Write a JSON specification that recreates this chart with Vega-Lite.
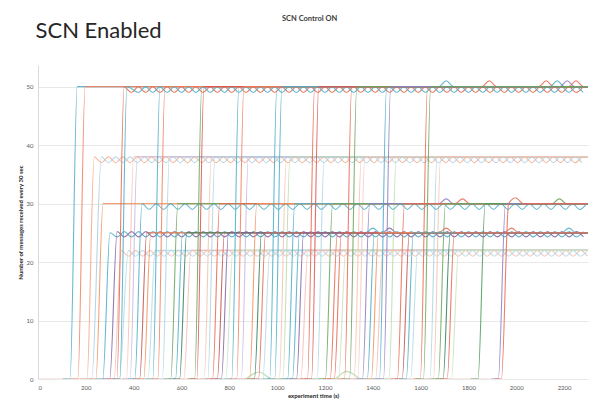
{
"$schema":"https://vega.github.io/schema/vega-lite/v6.json",
"width":550,"height":314,
"autosize":{"type":"none"},
"padding":{"left":38,"top":65,"right":10,"bottom":21},
"background":"white",
"config":{"font":"Lato","view":{"stroke":null}},
"title":{"text":"SCN Control ON","fontSize":7.5,"fontWeight":"bold","color":"#404040","anchor":"start","frame":"group","dx":244,"offset":-3},
"datasets":{
"l0":[
{"k":"z1","t":0,"v":0},{"k":"z1","t":1890,"v":0},
{"k":"z2","t":870,"v":0},{"k":"z2","t":925,"v":1.2},{"k":"z2","t":980,"v":0},{"k":"z2","t":1235,"v":0},{"k":"z2","t":1290,"v":1.3},{"k":"z2","t":1345,"v":0}
],
"l21":[
{"k":"i0","t":288,"v":0},{"k":"i0","t":318,"v":0},{"k":"i0","t":348,"v":22},
{"k":"i0","t":378,"v":21},{"k":"i0","t":408,"v":22},{"k":"i0","t":438,"v":21},{"k":"i0","t":468,"v":22},{"k":"i0","t":498,"v":21},{"k":"i0","t":528,"v":22},{"k":"i0","t":558,"v":21},{"k":"i0","t":588,"v":22},{"k":"i0","t":618,"v":21},{"k":"i0","t":648,"v":22},{"k":"i0","t":678,"v":21},{"k":"i0","t":708,"v":22},{"k":"i0","t":738,"v":21},{"k":"i0","t":768,"v":22},{"k":"i0","t":798,"v":21},{"k":"i0","t":828,"v":22},{"k":"i0","t":858,"v":21},{"k":"i0","t":888,"v":22},{"k":"i0","t":918,"v":21},{"k":"i0","t":948,"v":22},{"k":"i0","t":978,"v":21},{"k":"i0","t":1008,"v":22},{"k":"i0","t":1038,"v":21},{"k":"i0","t":1068,"v":22},{"k":"i0","t":1098,"v":21},{"k":"i0","t":1128,"v":22},{"k":"i0","t":1158,"v":21},{"k":"i0","t":1188,"v":22},{"k":"i0","t":1218,"v":21},{"k":"i0","t":1248,"v":22},{"k":"i0","t":1278,"v":21},{"k":"i0","t":1308,"v":22},{"k":"i0","t":1338,"v":21},{"k":"i0","t":1368,"v":22},{"k":"i0","t":1398,"v":21},{"k":"i0","t":1428,"v":22},{"k":"i0","t":1458,"v":21},{"k":"i0","t":1488,"v":22},{"k":"i0","t":1518,"v":21},{"k":"i0","t":1548,"v":22},{"k":"i0","t":1578,"v":21},{"k":"i0","t":1608,"v":22},{"k":"i0","t":1638,"v":21},{"k":"i0","t":1668,"v":22},{"k":"i0","t":1698,"v":21},{"k":"i0","t":1728,"v":22},{"k":"i0","t":1758,"v":21},{"k":"i0","t":1788,"v":22},{"k":"i0","t":1818,"v":21},{"k":"i0","t":1848,"v":22},{"k":"i0","t":1878,"v":21},{"k":"i0","t":1908,"v":22},{"k":"i0","t":1938,"v":21},{"k":"i0","t":1968,"v":22},{"k":"i0","t":1998,"v":21},{"k":"i0","t":2028,"v":22},{"k":"i0","t":2058,"v":21},{"k":"i0","t":2088,"v":22},{"k":"i0","t":2118,"v":21},{"k":"i0","t":2148,"v":22},{"k":"i0","t":2178,"v":21},{"k":"i0","t":2208,"v":22},{"k":"i0","t":2238,"v":21},{"k":"i0","t":2268,"v":22},{"k":"i0","t":2298,"v":21},
{"k":"j0","t":310,"v":0},{"k":"j0","t":340,"v":0},
{"k":"j0","t":378,"v":22},{"k":"j0","t":408,"v":21},{"k":"j0","t":438,"v":22},{"k":"j0","t":468,"v":21},{"k":"j0","t":498,"v":22},{"k":"j0","t":528,"v":21},{"k":"j0","t":558,"v":22},{"k":"j0","t":588,"v":21},{"k":"j0","t":618,"v":22},{"k":"j0","t":648,"v":21},{"k":"j0","t":678,"v":22},{"k":"j0","t":708,"v":21},{"k":"j0","t":738,"v":22},{"k":"j0","t":768,"v":21},{"k":"j0","t":798,"v":22},{"k":"j0","t":828,"v":21},{"k":"j0","t":858,"v":22},{"k":"j0","t":888,"v":21},{"k":"j0","t":918,"v":22},{"k":"j0","t":948,"v":21},{"k":"j0","t":978,"v":22},{"k":"j0","t":1008,"v":21},{"k":"j0","t":1038,"v":22},{"k":"j0","t":1068,"v":21},{"k":"j0","t":1098,"v":22},{"k":"j0","t":1128,"v":21},{"k":"j0","t":1158,"v":22},{"k":"j0","t":1188,"v":21},{"k":"j0","t":1218,"v":22},{"k":"j0","t":1248,"v":21},{"k":"j0","t":1278,"v":22},{"k":"j0","t":1308,"v":21},{"k":"j0","t":1338,"v":22},{"k":"j0","t":1368,"v":21},{"k":"j0","t":1398,"v":22},{"k":"j0","t":1428,"v":21},{"k":"j0","t":1458,"v":22},{"k":"j0","t":1488,"v":21},{"k":"j0","t":1518,"v":22},{"k":"j0","t":1548,"v":21},{"k":"j0","t":1578,"v":22},{"k":"j0","t":1608,"v":21},{"k":"j0","t":1638,"v":22},{"k":"j0","t":1668,"v":21},{"k":"j0","t":1698,"v":22},{"k":"j0","t":1728,"v":21},{"k":"j0","t":1758,"v":22},{"k":"j0","t":1788,"v":21},{"k":"j0","t":1818,"v":22},{"k":"j0","t":1848,"v":21},{"k":"j0","t":1878,"v":22},{"k":"j0","t":1908,"v":21},{"k":"j0","t":1938,"v":22},{"k":"j0","t":1968,"v":21},{"k":"j0","t":1998,"v":22},{"k":"j0","t":2028,"v":21},{"k":"j0","t":2058,"v":22},{"k":"j0","t":2088,"v":21},{"k":"j0","t":2118,"v":22},{"k":"j0","t":2148,"v":21},{"k":"j0","t":2178,"v":22},{"k":"j0","t":2208,"v":21},{"k":"j0","t":2238,"v":22},{"k":"j0","t":2268,"v":21},{"k":"j0","t":2298,"v":22},
{"k":"i1","t":430,"v":0},{"k":"i1","t":460,"v":0},{"k":"i1","t":490,"v":22},{"k":"i1","t":2300,"v":22},
{"k":"i2","t":580,"v":0},{"k":"i2","t":610,"v":0},{"k":"i2","t":640,"v":22},{"k":"i2","t":2300,"v":22},
{"k":"i3","t":755,"v":0},{"k":"i3","t":785,"v":0},{"k":"i3","t":815,"v":22},{"k":"i3","t":2300,"v":22},
{"k":"i4","t":910,"v":0},{"k":"i4","t":940,"v":0},{"k":"i4","t":970,"v":22},{"k":"i4","t":2300,"v":22},
{"k":"i5","t":1069,"v":0},{"k":"i5","t":1099,"v":0},{"k":"i5","t":1129,"v":22},{"k":"i5","t":2300,"v":22},
{"k":"i6","t":1227,"v":0},{"k":"i6","t":1257,"v":0},{"k":"i6","t":1287,"v":22},{"k":"i6","t":2300,"v":22},
{"k":"i7","t":1382,"v":0},{"k":"i7","t":1412,"v":0},{"k":"i7","t":1442,"v":22},{"k":"i7","t":2300,"v":22},
{"k":"i8","t":1528,"v":0},{"k":"i8","t":1558,"v":0},{"k":"i8","t":1588,"v":22},{"k":"i8","t":2300,"v":22},
{"k":"i9","t":1699,"v":0},{"k":"i9","t":1729,"v":0},{"k":"i9","t":1759,"v":22},{"k":"i9","t":2300,"v":22}
],
"l37":[
{"k":"c0","t":175,"v":0},{"k":"c0","t":205,"v":0},{"k":"c0","t":235,"v":38},
{"k":"c0","t":265,"v":37},{"k":"c0","t":295,"v":38},{"k":"c0","t":325,"v":37},{"k":"c0","t":355,"v":38},{"k":"c0","t":385,"v":37},{"k":"c0","t":415,"v":38},{"k":"c0","t":445,"v":37},{"k":"c0","t":475,"v":38},{"k":"c0","t":505,"v":37},{"k":"c0","t":535,"v":38},{"k":"c0","t":565,"v":37},{"k":"c0","t":595,"v":38},{"k":"c0","t":625,"v":37},{"k":"c0","t":655,"v":38},{"k":"c0","t":685,"v":37},{"k":"c0","t":715,"v":38},{"k":"c0","t":745,"v":37},{"k":"c0","t":775,"v":38},{"k":"c0","t":805,"v":37},{"k":"c0","t":835,"v":38},{"k":"c0","t":865,"v":37},{"k":"c0","t":895,"v":38},{"k":"c0","t":925,"v":37},{"k":"c0","t":955,"v":38},{"k":"c0","t":985,"v":37},{"k":"c0","t":1015,"v":38},{"k":"c0","t":1045,"v":37},{"k":"c0","t":1075,"v":38},{"k":"c0","t":1105,"v":37},{"k":"c0","t":1135,"v":38},{"k":"c0","t":1165,"v":37},{"k":"c0","t":1195,"v":38},{"k":"c0","t":1225,"v":37},{"k":"c0","t":1255,"v":38},{"k":"c0","t":1285,"v":37},{"k":"c0","t":1315,"v":38},{"k":"c0","t":1345,"v":37},{"k":"c0","t":1375,"v":38},{"k":"c0","t":1405,"v":37},{"k":"c0","t":1435,"v":38},{"k":"c0","t":1465,"v":37},{"k":"c0","t":1495,"v":38},{"k":"c0","t":1525,"v":37},{"k":"c0","t":1555,"v":38},{"k":"c0","t":1585,"v":37},{"k":"c0","t":1615,"v":38},{"k":"c0","t":1645,"v":37},{"k":"c0","t":1675,"v":38},{"k":"c0","t":1705,"v":37},{"k":"c0","t":1735,"v":38},{"k":"c0","t":1765,"v":37},{"k":"c0","t":1795,"v":38},{"k":"c0","t":1825,"v":37},{"k":"c0","t":1855,"v":38},{"k":"c0","t":1885,"v":37},{"k":"c0","t":1915,"v":38},{"k":"c0","t":1945,"v":37},{"k":"c0","t":1975,"v":38},{"k":"c0","t":2005,"v":37},{"k":"c0","t":2035,"v":38},{"k":"c0","t":2065,"v":37},{"k":"c0","t":2095,"v":38},{"k":"c0","t":2125,"v":37},{"k":"c0","t":2155,"v":38},{"k":"c0","t":2185,"v":37},{"k":"c0","t":2215,"v":38},{"k":"c0","t":2245,"v":37},{"k":"c0","t":2275,"v":38},
{"k":"d0","t":195,"v":0},{"k":"d0","t":225,"v":0},
{"k":"d0","t":265,"v":38},{"k":"d0","t":295,"v":37},{"k":"d0","t":325,"v":38},{"k":"d0","t":355,"v":37},{"k":"d0","t":385,"v":38},{"k":"d0","t":415,"v":37},{"k":"d0","t":445,"v":38},{"k":"d0","t":475,"v":37},{"k":"d0","t":505,"v":38},{"k":"d0","t":535,"v":37},{"k":"d0","t":565,"v":38},{"k":"d0","t":595,"v":37},{"k":"d0","t":625,"v":38},{"k":"d0","t":655,"v":37},{"k":"d0","t":685,"v":38},{"k":"d0","t":715,"v":37},{"k":"d0","t":745,"v":38},{"k":"d0","t":775,"v":37},{"k":"d0","t":805,"v":38},{"k":"d0","t":835,"v":37},{"k":"d0","t":865,"v":38},{"k":"d0","t":895,"v":37},{"k":"d0","t":925,"v":38},{"k":"d0","t":955,"v":37},{"k":"d0","t":985,"v":38},{"k":"d0","t":1015,"v":37},{"k":"d0","t":1045,"v":38},{"k":"d0","t":1075,"v":37},{"k":"d0","t":1105,"v":38},{"k":"d0","t":1135,"v":37},{"k":"d0","t":1165,"v":38},{"k":"d0","t":1195,"v":37},{"k":"d0","t":1225,"v":38},{"k":"d0","t":1255,"v":37},{"k":"d0","t":1285,"v":38},{"k":"d0","t":1315,"v":37},{"k":"d0","t":1345,"v":38},{"k":"d0","t":1375,"v":37},{"k":"d0","t":1405,"v":38},{"k":"d0","t":1435,"v":37},{"k":"d0","t":1465,"v":38},{"k":"d0","t":1495,"v":37},{"k":"d0","t":1525,"v":38},{"k":"d0","t":1555,"v":37},{"k":"d0","t":1585,"v":38},{"k":"d0","t":1615,"v":37},{"k":"d0","t":1645,"v":38},{"k":"d0","t":1675,"v":37},{"k":"d0","t":1705,"v":38},{"k":"d0","t":1735,"v":37},{"k":"d0","t":1765,"v":38},{"k":"d0","t":1795,"v":37},{"k":"d0","t":1825,"v":38},{"k":"d0","t":1855,"v":37},{"k":"d0","t":1885,"v":38},{"k":"d0","t":1915,"v":37},{"k":"d0","t":1945,"v":38},{"k":"d0","t":1975,"v":37},{"k":"d0","t":2005,"v":38},{"k":"d0","t":2035,"v":37},{"k":"d0","t":2065,"v":38},{"k":"d0","t":2095,"v":37},{"k":"d0","t":2125,"v":38},{"k":"d0","t":2155,"v":37},{"k":"d0","t":2185,"v":38},{"k":"d0","t":2215,"v":37},{"k":"d0","t":2245,"v":38},{"k":"d0","t":2275,"v":37},
{"k":"c1","t":340,"v":0},{"k":"c1","t":370,"v":0},{"k":"c1","t":400,"v":38},{"k":"c1","t":2300,"v":38},
{"k":"c2","t":490,"v":0},{"k":"c2","t":520,"v":0},{"k":"c2","t":550,"v":38},{"k":"c2","t":2300,"v":38},
{"k":"c3","t":665,"v":0},{"k":"c3","t":695,"v":0},{"k":"c3","t":725,"v":38},{"k":"c3","t":2300,"v":38},
{"k":"c4","t":820,"v":0},{"k":"c4","t":850,"v":0},{"k":"c4","t":880,"v":38},{"k":"c4","t":2300,"v":38},
{"k":"c5","t":979,"v":0},{"k":"c5","t":1009,"v":0},{"k":"c5","t":1039,"v":38},{"k":"c5","t":2300,"v":38},
{"k":"c6","t":1137,"v":0},{"k":"c6","t":1167,"v":0},{"k":"c6","t":1197,"v":38},{"k":"c6","t":2300,"v":38},
{"k":"c7","t":1292,"v":0},{"k":"c7","t":1322,"v":0},{"k":"c7","t":1352,"v":38},{"k":"c7","t":2300,"v":38},
{"k":"c8","t":1438,"v":0},{"k":"c8","t":1468,"v":0},{"k":"c8","t":1498,"v":38},{"k":"c8","t":2300,"v":38},
{"k":"c9","t":1609,"v":0},{"k":"c9","t":1639,"v":0},{"k":"c9","t":1669,"v":38},{"k":"c9","t":2300,"v":38},
{"k":"d1","t":355,"v":0},{"k":"d1","t":385,"v":0},{"k":"d1","t":415,"v":38},{"k":"d1","t":2300,"v":38},
{"k":"d3","t":680,"v":0},{"k":"d3","t":710,"v":0},{"k":"d3","t":740,"v":38},{"k":"d3","t":2300,"v":38},
{"k":"d5","t":994,"v":0},{"k":"d5","t":1024,"v":0},{"k":"d5","t":1054,"v":38},{"k":"d5","t":2300,"v":38},
{"k":"d7","t":1307,"v":0},{"k":"d7","t":1337,"v":0},{"k":"d7","t":1367,"v":38},{"k":"d7","t":2300,"v":38},
{"k":"d9","t":1624,"v":0},{"k":"d9","t":1654,"v":0},{"k":"d9","t":1684,"v":38},{"k":"d9","t":2300,"v":38}
],
"l25":[
{"k":"g0","t":241,"v":0},{"k":"g0","t":271,"v":0},{"k":"g0","t":301,"v":25},
{"k":"g0","t":331,"v":24.3},{"k":"g0","t":361,"v":25.2},{"k":"g0","t":391,"v":24.3},{"k":"g0","t":421,"v":25.2},{"k":"g0","t":451,"v":24.3},{"k":"g0","t":481,"v":25.2},{"k":"g0","t":511,"v":24.3},{"k":"g0","t":541,"v":25.2},{"k":"g0","t":571,"v":24.3},{"k":"g0","t":601,"v":25.2},{"k":"g0","t":631,"v":24.3},{"k":"g0","t":661,"v":25.2},{"k":"g0","t":691,"v":24.3},{"k":"g0","t":721,"v":25.2},{"k":"g0","t":751,"v":24.3},{"k":"g0","t":781,"v":25.2},{"k":"g0","t":811,"v":24.3},{"k":"g0","t":841,"v":25.2},{"k":"g0","t":871,"v":24.3},{"k":"g0","t":901,"v":25.2},{"k":"g0","t":931,"v":24.3},{"k":"g0","t":961,"v":25.2},{"k":"g0","t":991,"v":24.3},{"k":"g0","t":1021,"v":25.2},{"k":"g0","t":1051,"v":24.3},{"k":"g0","t":1081,"v":25.2},{"k":"g0","t":1111,"v":24.3},{"k":"g0","t":1141,"v":25.2},{"k":"g0","t":1171,"v":24.3},{"k":"g0","t":1201,"v":25.2},{"k":"g0","t":1231,"v":24.3},{"k":"g0","t":1261,"v":25.2},{"k":"g0","t":1291,"v":24.3},{"k":"g0","t":1321,"v":25.2},{"k":"g0","t":1351,"v":24.3},{"k":"g0","t":1381,"v":25.2},{"k":"g0","t":1411,"v":24.3},{"k":"g0","t":1441,"v":25.2},{"k":"g0","t":1471,"v":24.3},{"k":"g0","t":1501,"v":25.2},{"k":"g0","t":1531,"v":24.3},{"k":"g0","t":1561,"v":25.2},{"k":"g0","t":1591,"v":24.3},{"k":"g0","t":1621,"v":25.2},{"k":"g0","t":1651,"v":24.3},{"k":"g0","t":1681,"v":25.2},{"k":"g0","t":1711,"v":24.3},{"k":"g0","t":1741,"v":25.2},{"k":"g0","t":1771,"v":24.3},{"k":"g0","t":1801,"v":25.2},{"k":"g0","t":1831,"v":24.3},{"k":"g0","t":1861,"v":25.2},{"k":"g0","t":1891,"v":24.3},{"k":"g0","t":1921,"v":25.2},{"k":"g0","t":1951,"v":24.3},{"k":"g0","t":1981,"v":25.2},{"k":"g0","t":2011,"v":24.3},{"k":"g0","t":2041,"v":25.2},{"k":"g0","t":2071,"v":24.3},{"k":"g0","t":2101,"v":25.2},{"k":"g0","t":2131,"v":24.3},{"k":"g0","t":2161,"v":25.2},{"k":"g0","t":2191,"v":24.3},{"k":"g0","t":2221,"v":25.2},{"k":"g0","t":2251,"v":24.3},{"k":"g0","t":2281,"v":25.2},
{"k":"h0","t":270,"v":0},{"k":"h0","t":300,"v":0},
{"k":"h0","t":331,"v":25.2},{"k":"h0","t":361,"v":24.3},{"k":"h0","t":391,"v":25.2},{"k":"h0","t":421,"v":24.3},{"k":"h0","t":451,"v":25.2},{"k":"h0","t":481,"v":24.3},{"k":"h0","t":511,"v":25.2},{"k":"h0","t":541,"v":24.3},{"k":"h0","t":571,"v":25.2},{"k":"h0","t":601,"v":24.3},{"k":"h0","t":631,"v":25.2},{"k":"h0","t":661,"v":24.3},{"k":"h0","t":691,"v":25.2},{"k":"h0","t":721,"v":24.3},{"k":"h0","t":751,"v":25.2},{"k":"h0","t":781,"v":24.3},{"k":"h0","t":811,"v":25.2},{"k":"h0","t":841,"v":24.3},{"k":"h0","t":871,"v":25.2},{"k":"h0","t":901,"v":24.3},{"k":"h0","t":931,"v":25.2},{"k":"h0","t":961,"v":24.3},{"k":"h0","t":991,"v":25.2},{"k":"h0","t":1021,"v":24.3},{"k":"h0","t":1051,"v":25.2},{"k":"h0","t":1081,"v":24.3},{"k":"h0","t":1111,"v":25.2},{"k":"h0","t":1141,"v":24.3},{"k":"h0","t":1171,"v":25.2},{"k":"h0","t":1201,"v":24.3},{"k":"h0","t":1231,"v":25.2},{"k":"h0","t":1261,"v":24.3},{"k":"h0","t":1291,"v":25.2},{"k":"h0","t":1321,"v":24.3},{"k":"h0","t":1351,"v":25.2},{"k":"h0","t":1381,"v":24.3},{"k":"h0","t":1411,"v":25.2},{"k":"h0","t":1441,"v":24.3},{"k":"h0","t":1471,"v":25.2},{"k":"h0","t":1501,"v":24.3},{"k":"h0","t":1531,"v":25.2},{"k":"h0","t":1561,"v":24.3},{"k":"h0","t":1591,"v":25.2},{"k":"h0","t":1621,"v":24.3},{"k":"h0","t":1651,"v":25.2},{"k":"h0","t":1681,"v":24.3},{"k":"h0","t":1711,"v":25.2},{"k":"h0","t":1741,"v":24.3},{"k":"h0","t":1771,"v":25.2},{"k":"h0","t":1801,"v":24.3},{"k":"h0","t":1831,"v":25.2},{"k":"h0","t":1861,"v":24.3},{"k":"h0","t":1891,"v":25.2},{"k":"h0","t":1921,"v":24.3},{"k":"h0","t":1951,"v":25.2},{"k":"h0","t":1981,"v":24.3},{"k":"h0","t":2011,"v":25.2},{"k":"h0","t":2041,"v":24.3},{"k":"h0","t":2071,"v":25.2},{"k":"h0","t":2101,"v":24.3},{"k":"h0","t":2131,"v":25.2},{"k":"h0","t":2161,"v":24.3},{"k":"h0","t":2191,"v":25.2},{"k":"h0","t":2221,"v":24.3},{"k":"h0","t":2251,"v":25.2},{"k":"h0","t":2281,"v":24.3},
{"k":"g1","t":395,"v":0},{"k":"g1","t":425,"v":0},{"k":"g1","t":455,"v":25},{"k":"g1","t":2300,"v":25},
{"k":"g2","t":545,"v":0},{"k":"g2","t":575,"v":0},{"k":"g2","t":605,"v":25},{"k":"g2","t":2300,"v":25},
{"k":"g3","t":720,"v":0},{"k":"g3","t":750,"v":0},{"k":"g3","t":780,"v":25},{"k":"g3","t":2300,"v":25},
{"k":"g4","t":875,"v":0},{"k":"g4","t":905,"v":0},{"k":"g4","t":935,"v":25},{"k":"g4","t":2300,"v":25},
{"k":"g5","t":1034,"v":0},{"k":"g5","t":1064,"v":0},{"k":"g5","t":1094,"v":25},{"k":"g5","t":1370,"v":25},{"k":"g5","t":1400,"v":25.8},{"k":"g5","t":1430,"v":25},{"k":"g5","t":2300,"v":25},
{"k":"g6","t":1192,"v":0},{"k":"g6","t":1222,"v":0},{"k":"g6","t":1252,"v":25},{"k":"g6","t":1677,"v":25},{"k":"g6","t":1707,"v":25.8},{"k":"g6","t":1737,"v":25},{"k":"g6","t":2300,"v":25},
{"k":"g7","t":1347,"v":0},{"k":"g7","t":1377,"v":0},{"k":"g7","t":1407,"v":25},{"k":"g7","t":2190,"v":25},{"k":"g7","t":2220,"v":25.8},{"k":"g7","t":2250,"v":25},{"k":"g7","t":2300,"v":25},
{"k":"g8","t":1493,"v":0},{"k":"g8","t":1523,"v":0},{"k":"g8","t":1553,"v":25},{"k":"g8","t":2300,"v":25},
{"k":"g9","t":1664,"v":0},{"k":"g9","t":1694,"v":0},{"k":"g9","t":1724,"v":25},{"k":"g9","t":2300,"v":25},
{"k":"h1","t":412,"v":0},{"k":"h1","t":442,"v":0},{"k":"h1","t":472,"v":25},{"k":"h1","t":2300,"v":25},
{"k":"h2","t":562,"v":0},{"k":"h2","t":592,"v":0},{"k":"h2","t":622,"v":25},{"k":"h2","t":2300,"v":25},
{"k":"h3","t":737,"v":0},{"k":"h3","t":767,"v":0},{"k":"h3","t":797,"v":25},{"k":"h3","t":2300,"v":25},
{"k":"h4","t":892,"v":0},{"k":"h4","t":922,"v":0},{"k":"h4","t":952,"v":25},{"k":"h4","t":2300,"v":25},
{"k":"h5","t":1051,"v":0},{"k":"h5","t":1081,"v":0},{"k":"h5","t":1111,"v":25},{"k":"h5","t":1440,"v":25},{"k":"h5","t":1470,"v":25.8},{"k":"h5","t":1500,"v":25},{"k":"h5","t":2300,"v":25},
{"k":"h6","t":1209,"v":0},{"k":"h6","t":1239,"v":0},{"k":"h6","t":1269,"v":25},{"k":"h6","t":1950,"v":25},{"k":"h6","t":1980,"v":25.8},{"k":"h6","t":2010,"v":25},{"k":"h6","t":2300,"v":25},
{"k":"h7","t":1364,"v":0},{"k":"h7","t":1394,"v":0},{"k":"h7","t":1424,"v":25},{"k":"h7","t":2300,"v":25},
{"k":"h8","t":1510,"v":0},{"k":"h8","t":1540,"v":0},{"k":"h8","t":1570,"v":25},{"k":"h8","t":2300,"v":25},
{"k":"h9","t":1681,"v":0},{"k":"h9","t":1711,"v":0},{"k":"h9","t":1741,"v":25},{"k":"h9","t":2300,"v":25}
],
"l30":[
{"k":"e0","t":212,"v":0},{"k":"e0","t":242,"v":0},{"k":"e0","t":272,"v":30},{"k":"e0","t":2300,"v":30},
{"k":"e1","t":375,"v":0},{"k":"e1","t":405,"v":0},{"k":"e1","t":435,"v":30},
{"k":"e1","t":465,"v":29},{"k":"e1","t":495,"v":30},{"k":"e1","t":525,"v":29},{"k":"e1","t":555,"v":30},{"k":"e1","t":585,"v":29},{"k":"e1","t":615,"v":30},{"k":"e1","t":645,"v":29},{"k":"e1","t":675,"v":30},{"k":"e1","t":705,"v":29},{"k":"e1","t":735,"v":30},{"k":"e1","t":765,"v":29},{"k":"e1","t":795,"v":30},{"k":"e1","t":825,"v":29},{"k":"e1","t":855,"v":30},{"k":"e1","t":885,"v":29},{"k":"e1","t":915,"v":30},{"k":"e1","t":945,"v":29},{"k":"e1","t":975,"v":30},{"k":"e1","t":1005,"v":29},{"k":"e1","t":1035,"v":30},{"k":"e1","t":1065,"v":29},{"k":"e1","t":1095,"v":30},{"k":"e1","t":1125,"v":29},{"k":"e1","t":1155,"v":30},{"k":"e1","t":1185,"v":29},{"k":"e1","t":1215,"v":30},{"k":"e1","t":1245,"v":29},{"k":"e1","t":1275,"v":30},{"k":"e1","t":1305,"v":29},{"k":"e1","t":1335,"v":30},{"k":"e1","t":1365,"v":29},{"k":"e1","t":1395,"v":30},{"k":"e1","t":1425,"v":29},{"k":"e1","t":1455,"v":30},{"k":"e1","t":1485,"v":29},{"k":"e1","t":1515,"v":30},{"k":"e1","t":1545,"v":29},{"k":"e1","t":1575,"v":30},{"k":"e1","t":1605,"v":29},{"k":"e1","t":1635,"v":30},{"k":"e1","t":1665,"v":29},{"k":"e1","t":1695,"v":30},{"k":"e1","t":1725,"v":29},{"k":"e1","t":1755,"v":30},{"k":"e1","t":1785,"v":29},{"k":"e1","t":1815,"v":30},{"k":"e1","t":1845,"v":29},{"k":"e1","t":1875,"v":30},{"k":"e1","t":1905,"v":29},{"k":"e1","t":1935,"v":30},{"k":"e1","t":1965,"v":29},{"k":"e1","t":1995,"v":30},{"k":"e1","t":2025,"v":29},{"k":"e1","t":2055,"v":30},{"k":"e1","t":2085,"v":29},{"k":"e1","t":2115,"v":30},{"k":"e1","t":2145,"v":29},{"k":"e1","t":2175,"v":30},{"k":"e1","t":2205,"v":29},{"k":"e1","t":2235,"v":30},{"k":"e1","t":2265,"v":29},{"k":"e1","t":2295,"v":30},
{"k":"e2","t":525,"v":0},{"k":"e2","t":555,"v":0},{"k":"e2","t":585,"v":30},{"k":"e2","t":2300,"v":30},
{"k":"e3","t":700,"v":0},{"k":"e3","t":730,"v":0},{"k":"e3","t":760,"v":30},{"k":"e3","t":2300,"v":30},
{"k":"e4","t":855,"v":0},{"k":"e4","t":885,"v":0},{"k":"e4","t":915,"v":30},{"k":"e4","t":2300,"v":30},
{"k":"e5","t":1014,"v":0},{"k":"e5","t":1044,"v":0},{"k":"e5","t":1074,"v":30},{"k":"e5","t":2300,"v":30},
{"k":"e6","t":1172,"v":0},{"k":"e6","t":1202,"v":0},{"k":"e6","t":1232,"v":30},{"k":"e6","t":2300,"v":30},
{"k":"e7","t":1327,"v":0},{"k":"e7","t":1357,"v":0},{"k":"e7","t":1387,"v":30},{"k":"e7","t":1677,"v":30},{"k":"e7","t":1707,"v":30.8},{"k":"e7","t":1737,"v":30},{"k":"e7","t":2300,"v":30},
{"k":"e8","t":1473,"v":0},{"k":"e8","t":1503,"v":0},{"k":"e8","t":1533,"v":30},{"k":"e8","t":1745,"v":30},{"k":"e8","t":1775,"v":30.8},{"k":"e8","t":1805,"v":30},{"k":"e8","t":2300,"v":30},
{"k":"e9","t":1644,"v":0},{"k":"e9","t":1674,"v":0},{"k":"e9","t":1704,"v":30},{"k":"e9","t":2150,"v":30},{"k":"e9","t":2180,"v":30.8},{"k":"e9","t":2210,"v":30},{"k":"e9","t":2300,"v":30},
{"k":"f1","t":1810,"v":0},{"k":"f1","t":1840,"v":0},{"k":"f1","t":1870,"v":30},{"k":"f1","t":2300,"v":30},
{"k":"f2","t":1895,"v":0},{"k":"f2","t":1925,"v":0},{"k":"f2","t":1955,"v":30},{"k":"f2","t":2300,"v":30},
{"k":"f3","t":1908,"v":0},{"k":"f3","t":1938,"v":0},{"k":"f3","t":1968,"v":30},{"k":"f3","t":1998,"v":31},{"k":"f3","t":2028,"v":30},{"k":"f3","t":2300,"v":30}
],
"l50":[
{"k":"a0","t":104,"v":0},{"k":"a0","t":134,"v":0},{"k":"a0","t":164,"v":50},{"k":"a0","t":2300,"v":50},
{"k":"a1","t":300,"v":0},{"k":"a1","t":330,"v":0},{"k":"a1","t":360,"v":50},
{"k":"a1","t":390,"v":49},{"k":"a1","t":420,"v":50},{"k":"a1","t":450,"v":49},{"k":"a1","t":480,"v":50},{"k":"a1","t":510,"v":49},{"k":"a1","t":540,"v":50},{"k":"a1","t":570,"v":49},{"k":"a1","t":600,"v":50},{"k":"a1","t":630,"v":49},{"k":"a1","t":660,"v":50},{"k":"a1","t":690,"v":49},{"k":"a1","t":720,"v":50},{"k":"a1","t":750,"v":49},{"k":"a1","t":780,"v":50},{"k":"a1","t":810,"v":49},{"k":"a1","t":840,"v":50},{"k":"a1","t":870,"v":49},{"k":"a1","t":900,"v":50},{"k":"a1","t":930,"v":49},{"k":"a1","t":960,"v":50},{"k":"a1","t":990,"v":49},{"k":"a1","t":1020,"v":50},{"k":"a1","t":1050,"v":49},{"k":"a1","t":1080,"v":50},{"k":"a1","t":1110,"v":49},{"k":"a1","t":1140,"v":50},{"k":"a1","t":1170,"v":49},{"k":"a1","t":1200,"v":50},{"k":"a1","t":1230,"v":49},{"k":"a1","t":1260,"v":50},{"k":"a1","t":1290,"v":49},{"k":"a1","t":1320,"v":50},{"k":"a1","t":1350,"v":49},{"k":"a1","t":1380,"v":50},{"k":"a1","t":1410,"v":49},{"k":"a1","t":1440,"v":50},{"k":"a1","t":1470,"v":49},{"k":"a1","t":1500,"v":50},{"k":"a1","t":1530,"v":49},{"k":"a1","t":1560,"v":50},{"k":"a1","t":1590,"v":49},{"k":"a1","t":1620,"v":50},{"k":"a1","t":1650,"v":49},{"k":"a1","t":1680,"v":50},{"k":"a1","t":1710,"v":49},{"k":"a1","t":1740,"v":50},{"k":"a1","t":1770,"v":49},{"k":"a1","t":1800,"v":50},{"k":"a1","t":1830,"v":49},{"k":"a1","t":1860,"v":50},{"k":"a1","t":1890,"v":49},{"k":"a1","t":1920,"v":50},{"k":"a1","t":1950,"v":49},{"k":"a1","t":1980,"v":50},{"k":"a1","t":2010,"v":49},{"k":"a1","t":2040,"v":50},{"k":"a1","t":2070,"v":49},{"k":"a1","t":2100,"v":50},{"k":"a1","t":2130,"v":49},{"k":"a1","t":2160,"v":50},{"k":"a1","t":2190,"v":49},{"k":"a1","t":2220,"v":50},{"k":"a1","t":2250,"v":49},{"k":"a1","t":2280,"v":50},
{"k":"a2","t":450,"v":0},{"k":"a2","t":480,"v":0},{"k":"a2","t":510,"v":50},{"k":"a2","t":2300,"v":50},
{"k":"a3","t":625,"v":0},{"k":"a3","t":655,"v":0},{"k":"a3","t":685,"v":50},{"k":"a3","t":2300,"v":50},
{"k":"a4","t":780,"v":0},{"k":"a4","t":810,"v":0},{"k":"a4","t":840,"v":50},{"k":"a4","t":2300,"v":50},
{"k":"a5","t":939,"v":0},{"k":"a5","t":969,"v":0},{"k":"a5","t":999,"v":50},{"k":"a5","t":1677,"v":50},{"k":"a5","t":1707,"v":51},{"k":"a5","t":1737,"v":50},{"k":"a5","t":2300,"v":50},
{"k":"a6","t":1097,"v":0},{"k":"a6","t":1127,"v":0},{"k":"a6","t":1157,"v":50},{"k":"a6","t":1857,"v":50},{"k":"a6","t":1887,"v":51},{"k":"a6","t":1917,"v":50},{"k":"a6","t":2300,"v":50},
{"k":"a7","t":1252,"v":0},{"k":"a7","t":1282,"v":0},{"k":"a7","t":1312,"v":50},{"k":"a7","t":2095,"v":50},{"k":"a7","t":2125,"v":51},{"k":"a7","t":2155,"v":50},{"k":"a7","t":2300,"v":50},
{"k":"a8","t":1398,"v":0},{"k":"a8","t":1428,"v":0},{"k":"a8","t":1458,"v":50},{"k":"a8","t":2141,"v":50},{"k":"a8","t":2171,"v":51},{"k":"a8","t":2201,"v":50},{"k":"a8","t":2300,"v":50},
{"k":"a9","t":1569,"v":0},{"k":"a9","t":1599,"v":0},{"k":"a9","t":1629,"v":50},{"k":"a9","t":2220,"v":50},{"k":"a9","t":2250,"v":51},{"k":"a9","t":2280,"v":50},{"k":"a9","t":2300,"v":50},
{"k":"b0","t":137,"v":0},{"k":"b0","t":167,"v":0},{"k":"b0","t":197,"v":50},{"k":"b0","t":2300,"v":50},
{"k":"b1","t":312,"v":0},{"k":"b1","t":342,"v":0},{"k":"b1","t":372,"v":50},
{"k":"b1","t":420,"v":49},{"k":"b1","t":450,"v":50},{"k":"b1","t":480,"v":49},{"k":"b1","t":510,"v":50},{"k":"b1","t":540,"v":49},{"k":"b1","t":570,"v":50},{"k":"b1","t":600,"v":49},{"k":"b1","t":630,"v":50},{"k":"b1","t":660,"v":49},{"k":"b1","t":690,"v":50},{"k":"b1","t":720,"v":49},{"k":"b1","t":750,"v":50},{"k":"b1","t":780,"v":49},{"k":"b1","t":810,"v":50},{"k":"b1","t":840,"v":49},{"k":"b1","t":870,"v":50},{"k":"b1","t":900,"v":49},{"k":"b1","t":930,"v":50},{"k":"b1","t":960,"v":49},{"k":"b1","t":990,"v":50},{"k":"b1","t":1020,"v":49},{"k":"b1","t":1050,"v":50},{"k":"b1","t":1080,"v":49},{"k":"b1","t":1110,"v":50},{"k":"b1","t":1140,"v":49},{"k":"b1","t":1170,"v":50},{"k":"b1","t":1200,"v":49},{"k":"b1","t":1230,"v":50},{"k":"b1","t":1260,"v":49},{"k":"b1","t":1290,"v":50},{"k":"b1","t":1320,"v":49},{"k":"b1","t":1350,"v":50},{"k":"b1","t":1380,"v":49},{"k":"b1","t":1410,"v":50},{"k":"b1","t":1440,"v":49},{"k":"b1","t":1470,"v":50},{"k":"b1","t":1500,"v":49},{"k":"b1","t":1530,"v":50},{"k":"b1","t":1560,"v":49},{"k":"b1","t":1590,"v":50},{"k":"b1","t":1620,"v":49},{"k":"b1","t":1650,"v":50},{"k":"b1","t":1680,"v":49},{"k":"b1","t":1710,"v":50},{"k":"b1","t":1740,"v":49},{"k":"b1","t":1770,"v":50},{"k":"b1","t":1800,"v":49},{"k":"b1","t":1830,"v":50},{"k":"b1","t":1860,"v":49},{"k":"b1","t":1890,"v":50},{"k":"b1","t":1920,"v":49},{"k":"b1","t":1950,"v":50},{"k":"b1","t":1980,"v":49},{"k":"b1","t":2010,"v":50},{"k":"b1","t":2040,"v":49},{"k":"b1","t":2070,"v":50},{"k":"b1","t":2100,"v":49},{"k":"b1","t":2130,"v":50},{"k":"b1","t":2160,"v":49},{"k":"b1","t":2190,"v":50},{"k":"b1","t":2220,"v":49},{"k":"b1","t":2250,"v":50},{"k":"b1","t":2280,"v":49},
{"k":"b2","t":471,"v":0},{"k":"b2","t":501,"v":0},{"k":"b2","t":531,"v":50},{"k":"b2","t":2300,"v":50},
{"k":"b3","t":634,"v":0},{"k":"b3","t":664,"v":0},{"k":"b3","t":694,"v":50},{"k":"b3","t":2300,"v":50},
{"k":"b4","t":801,"v":0},{"k":"b4","t":831,"v":0},{"k":"b4","t":861,"v":50},{"k":"b4","t":2300,"v":50},
{"k":"b5","t":960,"v":0},{"k":"b5","t":990,"v":0},{"k":"b5","t":1020,"v":50},{"k":"b5","t":2300,"v":50},
{"k":"b6","t":1114,"v":0},{"k":"b6","t":1144,"v":0},{"k":"b6","t":1174,"v":50},{"k":"b6","t":2300,"v":50},
{"k":"b7","t":1273,"v":0},{"k":"b7","t":1303,"v":0},{"k":"b7","t":1333,"v":50},{"k":"b7","t":2300,"v":50},
{"k":"b8","t":1415,"v":0},{"k":"b8","t":1445,"v":0},{"k":"b8","t":1475,"v":50},{"k":"b8","t":2183,"v":50},{"k":"b8","t":2213,"v":51},{"k":"b8","t":2243,"v":50},{"k":"b8","t":2300,"v":50},
{"k":"b9","t":1582,"v":0},{"k":"b9","t":1612,"v":0},{"k":"b9","t":1642,"v":50},{"k":"b9","t":2300,"v":50}
]
},
"encoding":{
"y":{"field":"v","type":"quantitative","scale":{"domain":[0,53.7],"nice":false},
"axis":{"values":[0,10,20,30,40,50],"title":"Number of messages received every 30 sec","titleFontSize":6,"titleFontWeight":"bold","titleColor":"#262626","titlePadding":3,"labelFontSize":6,"labelColor":"#595959","labelPadding":5,"ticks":false,"domainColor":"#d9d9d9","gridColor":"#e8e8e8","grid":true}}
},
"layer":[
{"data":{"name":"l0"},"mark":{"type":"line","interpolate":"monotone","strokeWidth":1.1,"strokeOpacity":0.85,"clip":true},
"encoding":{"x":{"field":"t","type":"quantitative","scale":{"domain":[0,2300],"nice":false},"axis":null},
"color":{"field":"k","type":"nominal","scale":{"range":["#f8cdbd","#b5d6a7"]},"legend":null}}},
{"data":{"name":"l21"},"mark":{"type":"line","interpolate":"monotone","strokeWidth":1.1,"strokeOpacity":0.85,"clip":true},
"encoding":{"x":{"field":"t","type":"quantitative","scale":{"domain":[0,2300],"nice":false},"axis":null},
"color":{"field":"k","type":"nominal","scale":{"range":["#f5bcb4","#b2dbe6","#f5bcb4","#c9e2bf","#b2dbe6","#f5bcb4","#c9e2bf","#f5bcb4","#b2dbe6","#c9e2bf","#b2dbe6"]},"legend":null}}},
{"data":{"name":"l37"},"mark":{"type":"line","interpolate":"monotone","strokeWidth":1.1,"strokeOpacity":0.85,"clip":true},
"encoding":{"x":{"field":"t","type":"quantitative","scale":{"domain":[0,2300],"nice":false},
"axis":{"orient":"top","labels":false,"ticks":false,"domain":false,"grid":false,"title":"SCN Enabled","titleFontSize":22,"titleFontWeight":"normal","titleColor":"#262626","titleX":-3,"titleY":-28,"titleAlign":"left","titleBaseline":"alphabetic"}},
"color":{"field":"k","type":"nominal","scale":{"range":["#f4a582","#f6c1ad","#a9d5e3","#f6c1ad","#c5b9e0","#f6c1ad","#a9d5e3","#f6c1ad","#bcdab0","#a9d5e3","#a9cde3","#c5b9e0","#a9d5e3","#bcdab0","#f4c7c0","#f6c1ad"]},"legend":null}}},
{"data":{"name":"l25"},"mark":{"type":"line","interpolate":"monotone","strokeWidth":1.1,"strokeOpacity":0.85,"clip":true},
"encoding":{"x":{"field":"t","type":"quantitative","scale":{"domain":[0,2300],"nice":false},"axis":null},
"color":{"field":"k","type":"nominal","scale":{"range":["#4bacc6","#c0504d","#4bacc6","#c0504d","#2e7d5b","#4bacc6","#e8674f","#4bacc6","#c0504d","#2e7d5b","#8064a2","#f3915a","#2e7d5b","#8064a2","#e8674f","#8064a2","#e8674f","#f3915a","#4bacc6","#e8674f"]},"legend":null}}},
{"data":{"name":"l30"},"mark":{"type":"line","interpolate":"monotone","strokeWidth":1.1,"strokeOpacity":0.85,"clip":true},
"encoding":{"x":{"field":"t","type":"quantitative","scale":{"domain":[0,2300],"nice":false},"axis":null},
"color":{"field":"k","type":"nominal","scale":{"range":["#f3915a","#4bacc6","#6aa35a","#e8674f","#f3915a","#4bacc6","#6aa35a","#8e7cc3","#e8674f","#6aa35a","#4e9a5a","#8e7cc3","#e8674f"]},"legend":null}}},
{"data":{"name":"l50"},"mark":{"type":"line","interpolate":"monotone","strokeWidth":1.1,"strokeOpacity":0.85,"clip":true},
"encoding":{"x":{"field":"t","type":"quantitative","scale":{"domain":[0,2300],"nice":false},
"axis":{"values":[0,200,400,600,800,1000,1200,1400,1600,1800,2000,2200],"format":"d","title":"experiment time (s)","titleFontSize":6,"titleFontWeight":"bold","titleColor":"#262626","titlePadding":2,"labelFontSize":6,"labelColor":"#595959","labelPadding":5,"ticks":false,"domain":false,"grid":false}},
"color":{"field":"k","type":"nominal","scale":{"range":["#4bacc6","#e8674f","#4bacc6","#6aa35a","#4bacc6","#4bacc6","#e8674f","#e8674f","#4bacc6","#e8674f","#f07e5c","#4bacc6","#f07e5c","#d9534f","#f07e5c","#4bacc6","#d9534f","#6aa35a","#8e7cc3","#6aa35a"]},"legend":null}}}
],
"resolve":{"scale":{"color":"independent"},"axis":{"x":"independent"}}
}
